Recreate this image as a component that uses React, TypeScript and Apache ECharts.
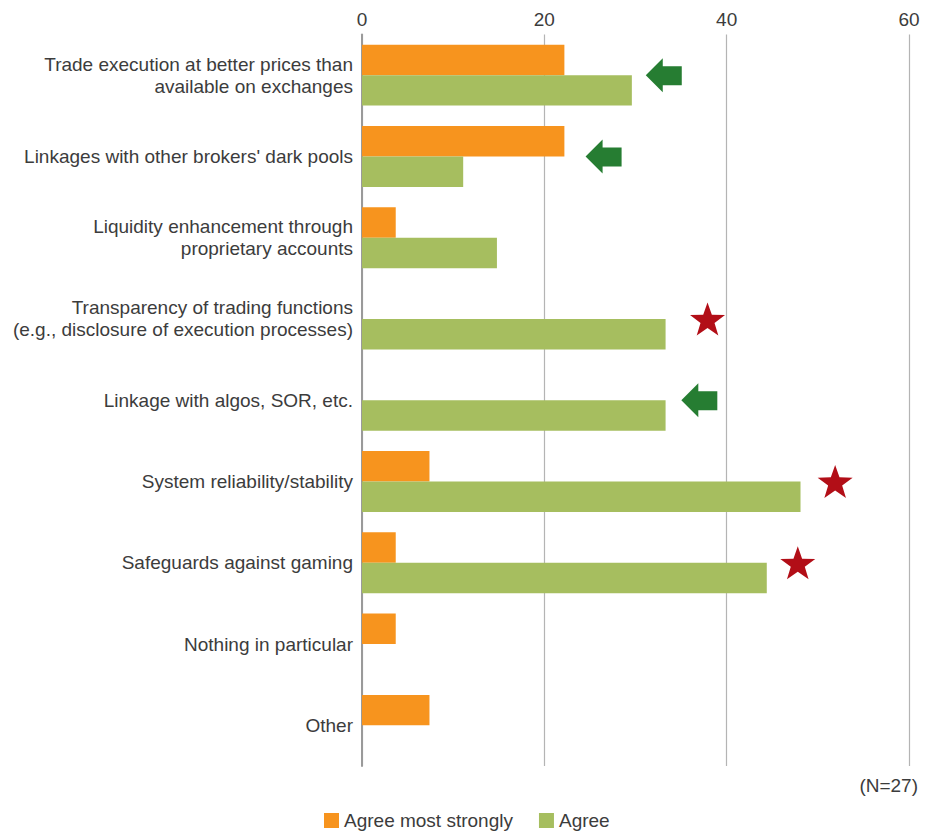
import React, { useEffect, useRef } from "react";
import * as echarts from "echarts";

const categories = [
  "Trade execution at better prices than\navailable on exchanges",
  "Linkages with other brokers' dark pools",
  "Liquidity enhancement through\nproprietary accounts",
  "Transparency of trading functions\n(e.g., disclosure of execution processes)",
  "Linkage with algos, SOR, etc.",
  "System reliability/stability",
  "Safeguards against gaming",
  "Nothing in particular",
  "Other",
];

const agreeMostStrongly = [22.2, 22.2, 3.7, 0, 0, 7.4, 3.7, 3.7, 7.4];
const agree = [29.6, 11.1, 14.8, 33.3, 33.3, 48.1, 44.4, 0, 0];

// annotation markers: [x position in axis units, category index]
const arrowMarks = [
  [33.1, 0],
  [26.5, 1],
  [37.0, 4],
];
const starMarks = [
  [37.9, 3],
  [51.9, 5],
  [47.8, 6],
];

const xTicks = { min: 0, max: 60, interval: 20 };
const seriesNames = ["Agree most strongly", "Agree"];
const noteText = "(N=27)";

const FONT = "'Liberation Sans', Arial, sans-serif";
const TEXT = "#3c3c3c";

function starPath(): string {
  const R = 17;
  const r = 6.8;
  const pts: string[] = [];
  for (let i = 0; i < 10; i++) {
    const rad = i % 2 === 0 ? R : r;
    const a = -Math.PI / 2 + (i * Math.PI) / 5;
    pts.push(`${(R + rad * Math.cos(a)).toFixed(2)},${(R + rad * Math.sin(a)).toFixed(2)}`);
  }
  return "path://M" + pts.join("L") + "Z";
}

export default function App() {
  const ref = useRef<HTMLDivElement>(null);
  useEffect(() => {
    document.body.style.margin = "0";
    const chart = echarts.init(ref.current!, null, { renderer: "svg" });
    chart.setOption({
      animation: false,
      backgroundColor: "#ffffff",
      textStyle: { fontFamily: FONT },
      grid: { left: 362, right: 24, top: 34.5, bottom: 67, containLabel: false },
      legend: {
        data: seriesNames,
        left: 324,
        top: 811,
        icon: "rect",
        itemWidth: 15,
        itemHeight: 15,
        itemGap: 26,
        padding: 0,
        textStyle: { fontSize: 19, color: TEXT, fontFamily: FONT },
      },
      xAxis: {
        type: "value",
        position: "top",
        min: xTicks.min,
        max: xTicks.max,
        interval: xTicks.interval,
        axisLine: { show: false },
        axisTick: { show: false },
        splitLine: { show: true, lineStyle: { color: "#b4b4b4", width: 1.2 } },
        axisLabel: { fontSize: 19, color: TEXT, margin: 6, fontFamily: FONT },
      },
      yAxis: {
        type: "category",
        inverse: true,
        data: categories,
        axisLine: { show: true, lineStyle: { color: "#9a9a9a", width: 2 } },
        axisTick: { show: false },
        axisLabel: {
          fontSize: 19,
          lineHeight: 22,
          color: TEXT,
          margin: 9,
          align: "right",
          fontFamily: FONT,
        },
      },
      series: [
        {
          name: seriesNames[0],
          type: "bar",
          data: agreeMostStrongly,
          barGap: "0%",
          barCategoryGap: "25%",
          itemStyle: { color: "#F7941E" },
        },
        {
          name: seriesNames[1],
          type: "bar",
          data: agree,
          barGap: "0%",
          barCategoryGap: "25%",
          itemStyle: { color: "#A6BE5F" },
        },
        {
          name: "arrows",
          type: "scatter",
          data: arrowMarks,
          symbol: "path://M0,17L17,0L17,8L36,8L36,27L17,27L17,34Z",
          symbolSize: [36, 34],
          itemStyle: { color: "#267D32", opacity: 1 },
          silent: true,
          z: 5,
        },
        {
          name: "stars",
          type: "scatter",
          data: starMarks,
          symbol: starPath(),
          symbolSize: [35, 33],
          itemStyle: { color: "#B20E17", opacity: 1 },
          silent: true,
          z: 5,
        },
      ],
      graphic: [
        {
          type: "text",
          right: 15,
          top: 776,
          style: { text: noteText, fontSize: 19, fill: TEXT, fontFamily: FONT },
        },
      ],
    });
    return () => chart.dispose();
  }, []);
  return <div ref={ref} style={{ width: 933, height: 833 }} />;
}
